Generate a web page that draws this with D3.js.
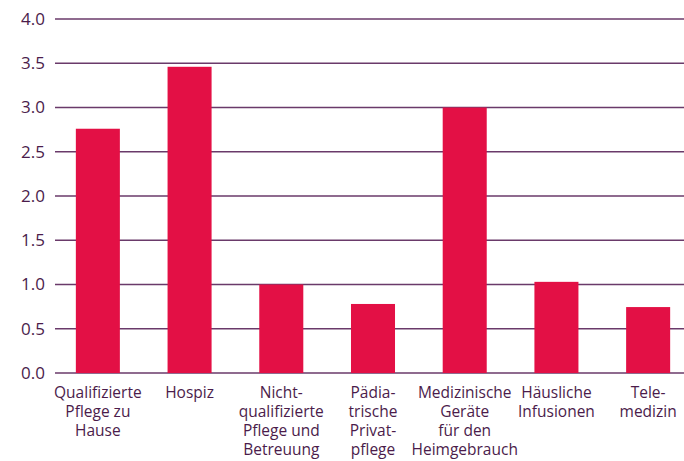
<!DOCTYPE html>
<html>
<head>
<meta charset="utf-8">
<script src="https://cdn.jsdelivr.net/npm/d3@7"></script>
<style>
  body { margin: 0; background: #fff; }
  text { font-family: "Open Sans", "Noto Sans", sans-serif; fill: #4b1c4b; }
</style>
</head>
<body>
<svg id="chart" width="684" height="461"></svg>
<script>
// categories (line breaks as in the original)
var categories = [
  ["Qualifizierte", "Pflege zu", "Hause"],
  ["Hospiz"],
  ["Nicht-", "qualifizierte", "Pflege und", "Betreuung"],
  ["Pädia-", "trische", "Privat-", "pflege"],
  ["Medizinische", "Geräte", "für den", "Heimgebrauch"],
  ["Häusliche", "Infusionen"],
  ["Tele-", "medizin"]
];
var values = [2.76, 3.46, 1.0, 0.78, 3.0, 1.03, 0.745];
var yTicks = [0, 0.5, 1, 1.5, 2, 2.5, 3, 3.5, 4];

var svg = d3.select("#chart");

var x = d3.scaleBand()
  .domain(d3.range(categories.length))
  .range([52, 694])
  .paddingInner(0.52)
  .paddingOuter(0.26);

var y = d3.scaleLinear().domain([0, 4]).range([373, 19]);

// grid lines
svg.append("g").selectAll("line").data(yTicks).enter().append("line")
  .attr("x1", 55).attr("x2", 684)
  .attr("y1", function(d) { return y(d); })
  .attr("y2", function(d) { return y(d); })
  .attr("stroke", "#6a3a6a")
  .attr("stroke-width", 1.3);

// y labels
svg.append("g").selectAll("text").data(yTicks).enter().append("text")
  .attr("x", 45)
  .attr("y", function(d) { return y(d); })
  .attr("dy", "0.35em")
  .attr("text-anchor", "end")
  .style("font-size", "17px")
  .text(function(d) { return d.toFixed(1); });

// bars
svg.append("g").selectAll("rect").data(values).enter().append("rect")
  .attr("x", function(d, i) { return x(i); })
  .attr("y", function(d) { return y(d); })
  .attr("width", x.bandwidth())
  .attr("height", function(d) { return y(0) - y(d); })
  .attr("fill", "#e31045");

// category labels
var lab = svg.append("g").selectAll("text").data(categories).enter().append("text")
  .attr("x", function(d, i) { return x(i) + x.bandwidth() / 2; })
  .attr("y", 398)
  .attr("text-anchor", "middle")
  .style("font-size", "15.5px");

lab.selectAll("tspan").data(function(d) { return d; }).enter().append("tspan")
  .attr("x", function() { return d3.select(this.parentNode).attr("x"); })
  .attr("dy", function(d, j) { return j === 0 ? 0 : 19; })
  .text(function(d) { return d; });
</script>
</body>
</html>
